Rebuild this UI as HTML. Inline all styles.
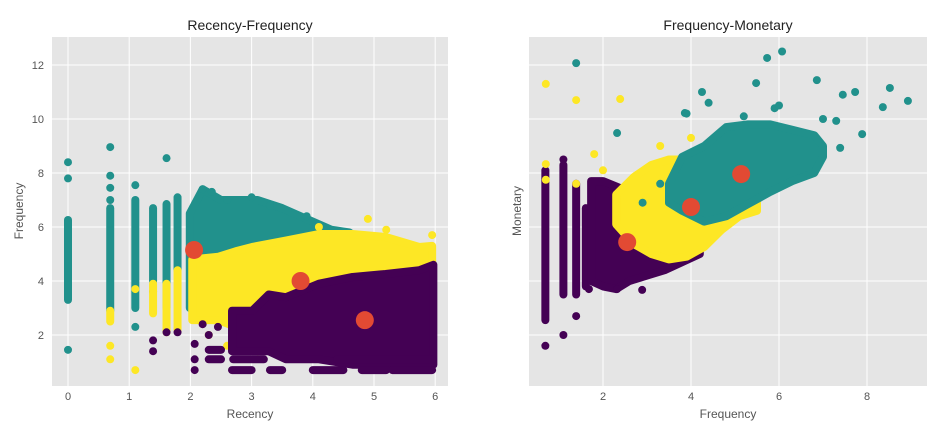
<!DOCTYPE html>
<html><head><meta charset="utf-8"><style>
body{margin:0;background:#fff;}
svg{display:block;font-family:"Liberation Sans",sans-serif;}
</style></head><body>
<svg id="chart" width="943" height="428"></svg>
<script>
// ---------- data: Recency-Frequency ----------
const rfCentroidX = [2.06, 3.8, 4.85];
const rfCentroidY = [5.15, 4.0, 2.55];
const rfTealColX = [0, 0.69, 1.1, 1.39, 1.61, 1.79];
const rfTealColLo = [3.3, 2.9, 3.0, 4.0, 3.0, 4.4];
const rfTealColHi = [6.26, 6.7, 7.0, 6.7, 6.85, 7.1];
const rfYelColX = [0.69, 1.39, 1.61, 1.79];
const rfYelColLo = [2.5, 2.8, 2.1, 2.2];
const rfYelColHi = [2.9, 3.9, 3.9, 4.4];
const rfTealX = [1.99,2.2,2.5,2.8,3.1,3.5,3.9,4.3,4.6];
const rfTealHi = [6.5,7.4,7.0,7.0,7.0,6.7,6.3,5.9,5.8];
const rfTealLo = [3.0,3.5,4.0,4.2,4.5,4.8,5.0,5.3,5.5];
const rfYelX = [2.03,2.46,2.74,3.01,3.56,4.1,4.65,5.19,5.74,5.95];
const rfYelHi = [4.8,4.9,5.1,5.26,5.5,5.74,5.74,5.63,5.26,5.3];
const rfYelLo = [2.55,2.55,2.3,2.8,3.3,3.67,3.9,4.15,4.3,4.5];
const rfPurX = [2.68,3.01,3.28,3.56,4.1,4.65,5.19,5.74,5.97];
const rfPurHi = [2.9,2.9,3.5,3.4,3.9,4.15,4.26,4.4,4.6];
const rfPurLo = [1.4,1.4,1.4,1.1,1.1,0.9,0.9,0.9,0.9];
const rfRowX1 = [2.07,2.3,2.68,3.3,4.0,4.8,5.3,2.3,2.7,4.4];
const rfRowX2 = [2.07,2.5,3.0,3.5,4.5,5.2,5.95,2.5,3.2,5.95];
const rfRowY  = [0.7,1.1,0.7,0.7,0.7,0.7,0.7,1.45,1.1,1.1];
const rfTealPtX = [0,0,0,0.69,0.69,0.69,0.69,1.1,1.1,1.39,1.61,2.2,2.35,2.6,3.0,3.3,3.9];
const rfTealPtY = [7.8,8.4,1.45,7.0,7.45,7.9,8.96,7.55,2.3,3.6,8.55,7.4,7.3,7.0,7.1,6.8,6.4];
const rfYelPtX = [0.69,0.69,1.1,1.1,2.3,2.6,3.1,4.1,4.9,5.2,5.95];
const rfYelPtY = [1.6,1.1,3.7,0.7,2.0,1.6,1.4,6.0,6.3,5.9,5.7];
const rfPurPtX = [1.39,1.39,1.61,1.79,2.07,2.07,2.2,2.3,2.45];
const rfPurPtY = [1.4,1.8,2.1,2.1,1.67,1.1,2.4,2.0,2.3];
const rfXTicks = [0,1,2,3,4,5,6];
const rfYTicks = [2,4,6,8,10,12];
// ---------- data: Frequency-Monetary ----------
const fmCentroidX = [2.55, 4.0, 5.14];
const fmCentroidY = [5.44, 6.74, 7.96];
const fmPurColX = [0.69, 1.1, 1.39, 1.61];
const fmPurColLo = [2.55, 3.5, 3.5, 3.8];
const fmPurColHi = [8.1, 8.3, 7.6, 6.7];
const fmPurX = [1.73,2.0,2.3,2.6,3.0,3.4,3.8,4.2];
const fmPurHi = [7.7,7.7,7.5,7.3,6.7,6.2,5.6,5.2];
const fmPurLo = [4.0,3.8,3.7,4.0,4.2,4.4,4.7,5.0];
const fmYelX = [2.3,2.7,3.1,3.5,3.9,4.3,4.7,5.1,5.5];
const fmYelHi = [7.2,7.85,8.3,8.5,8.5,8.3,8.1,7.85,7.6];
const fmYelLo = [6.1,5.37,5.0,4.8,4.9,5.26,5.9,6.4,6.6];
const fmTealX = [3.5,3.8,4.3,4.8,5.3,5.8,6.3,6.8,7.0];
const fmTealHi = [7.6,8.6,9.0,9.7,9.8,9.8,9.6,9.4,9.0];
const fmTealLo = [6.9,6.6,6.2,6.4,6.85,7.3,7.7,8.0,8.6];
const fmPurPtX = [0.69,1.1,1.39,1.68,2.32,2.89,1.1];
const fmPurPtY = [1.6,2.0,2.7,3.7,3.7,3.67,8.5];
const fmTealPtX = [1.39,5.73,6.07,6.86,8.52,8.93,8.36,7.73,7.45,7.89,7.3,7.39,2.32,4.25,5.48,3.86,4.4,3.9,5.9,6.0,5.2,7.0,3.3,2.9];
const fmTealPtY = [12.07,12.26,12.5,11.44,11.15,10.67,10.44,11.0,10.9,9.44,9.93,8.93,9.48,11.0,11.33,10.22,10.6,10.2,10.4,10.5,10.1,10.0,7.6,6.9];
const fmYelPtX = [0.7,0.7,1.39,2.39,0.7,1.39,1.8,2.0,3.3,4.0,4.5];
const fmYelPtY = [11.3,7.75,10.7,10.74,8.33,7.6,8.7,8.1,9.0,9.3,9.1];
const fmXTicks = [2,4,6,8];
const fmYGrid = [2,4,6,8,10,12];

const PUR="#440154", TEAL="#21918c", YEL="#fde725", RED="#e24a33";
const NS="http://www.w3.org/2000/svg";
const svg=document.getElementById('chart');
function mk(tag,attrs,parent){const e=document.createElementNS(NS,tag);for(const k in attrs)e.setAttribute(k,attrs[k]);(parent||svg).appendChild(e);return e;}

function panel(p){
  const g=mk('g',{});
  
  
  const bg=mk('rect',{x:p.x0,y:37,width:p.x1-p.x0,height:349,fill:'#e5e5e5'},g);
  
  
  const sx=v=>p.ox+p.kx*v, sy=v=>389-27*v;
  p.xt.forEach(t=>{
    const l=mk('line',{x1:sx(t),x2:sx(t),y1:37,y2:386,stroke:'#fff','stroke-width':1},g);
    
    
    const tx=mk('text',{x:sx(t),y:400,'font-size':11,fill:'#555','text-anchor':'middle'},g);
    tx.textContent=t;
    
    
  });
  p.yt.forEach(t=>{
    const l=mk('line',{x1:p.x0,x2:p.x1,y1:sy(t),y2:sy(t),stroke:'#fff','stroke-width':1},g);
    
    
    if(p.ylab){
      const tx=mk('text',{x:p.x0-8,y:sy(t)+4,'font-size':11,fill:'#555','text-anchor':'end'},g);
      tx.textContent=t;
      
      
    }
  });
  function band(xs,lo,hi,c,nm){
    const pts=xs.map((x,i)=>sx(x)+','+sy(hi[i])).concat(xs.slice().reverse().map((x,i)=>sx(x)+','+sy(lo[xs.length-1-i])));
    const e=mk('polygon',{points:pts.join(' '),fill:c,stroke:c,'stroke-width':8,'stroke-linejoin':'round'},g);
    
    
  }
  function cols(xs,lo,hi,c){
    xs.forEach((x,i)=>{
      const e=mk('line',{x1:sx(x),x2:sx(x),y1:sy(lo[i]),y2:sy(hi[i]),stroke:c,'stroke-width':8,'stroke-linecap':'round'},g);
      
      
    });
  }
  function rows(x1,x2,ys,c){
    ys.forEach((y,i)=>{
      const e=mk('line',{x1:sx(x1[i]),x2:sx(x2[i]),y1:sy(y),y2:sy(y),stroke:c,'stroke-width':8,'stroke-linecap':'round'},g);
      
      
    });
  }
  function pts(xs,ys,c,r,nm){
    xs.forEach((x,i)=>{
      const e=mk('circle',{cx:sx(x),cy:sy(ys[i]),r:r,fill:c},g);
      
      
    });
  }
  p.draw(band,cols,pts,rows);
  const t=mk('text',{x:(p.x0+p.x1)/2,y:30,'font-size':14,fill:'#222','text-anchor':'middle'},g);
  t.textContent=p.title;
  
  
  const xl=mk('text',{x:(p.x0+p.x1)/2,y:418,'font-size':12,fill:'#555','text-anchor':'middle'},g);
  xl.textContent=p.xlabel;
  
  
  const yl=mk('text',{x:0,y:0,'font-size':12,fill:'#555','text-anchor':'middle',transform:`translate(${p.ylx},211) rotate(-90)`},g);
  yl.textContent=p.ylabel;
  
  
}

panel({name:'recency-frequency-panel',x0:52,x1:448,ox:68,kx:61.2,xt:rfXTicks,yt:rfYTicks,ylab:true,
  title:'Recency-Frequency',xlabel:'Recency',ylabel:'Frequency',ylx:23,
  draw:(band,cols,pts,rows)=>{
    cols(rfTealColX,rfTealColLo,rfTealColHi,TEAL);
    band(rfTealX,rfTealLo,rfTealHi,TEAL,'cluster-teal');
    pts(rfTealPtX,rfTealPtY,TEAL,4,'point-teal');
    cols(rfYelColX,rfYelColLo,rfYelColHi,YEL);
    band(rfYelX,rfYelLo,rfYelHi,YEL,'cluster-yellow');
    pts(rfYelPtX,rfYelPtY,YEL,4,'point-yellow');
    band(rfPurX,rfPurLo,rfPurHi,PUR,'cluster-purple');
    rows(rfRowX1,rfRowX2,rfRowY,PUR);
    pts(rfPurPtX,rfPurPtY,PUR,4,'point-purple');
    pts(rfCentroidX,rfCentroidY,RED,9,'centroid');
  }});
panel({name:'frequency-monetary-panel',x0:529,x1:927,ox:515,kx:44,xt:fmXTicks,yt:fmYGrid,ylab:false,
  title:'Frequency-Monetary',xlabel:'Frequency',ylabel:'Monetary',ylx:521,
  draw:(band,cols,pts)=>{
    cols(fmPurColX,fmPurColLo,fmPurColHi,PUR);
    band(fmPurX,fmPurLo,fmPurHi,PUR,'cluster-purple');
    pts(fmPurPtX,fmPurPtY,PUR,4,'point-purple');
    band(fmYelX,fmYelLo,fmYelHi,YEL,'cluster-yellow');
    pts(fmYelPtX,fmYelPtY,YEL,4,'point-yellow');
    band(fmTealX,fmTealLo,fmTealHi,TEAL,'cluster-teal');
    pts(fmTealPtX,fmTealPtY,TEAL,4,'point-teal');
    pts(fmCentroidX,fmCentroidY,RED,9,'centroid');
  }});
</script>
</body></html>
